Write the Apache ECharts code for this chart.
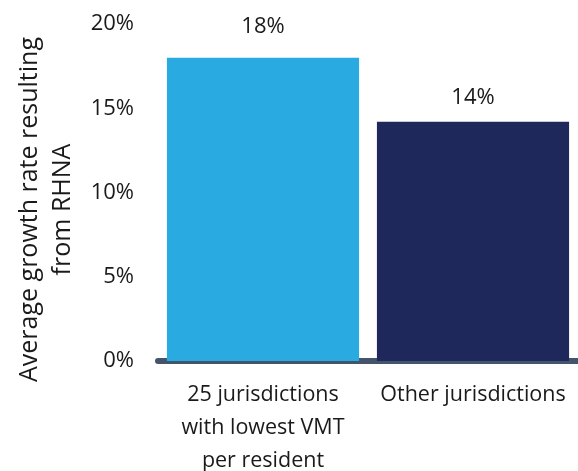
<!DOCTYPE html>
<html>
<head>
<meta charset="utf-8">
<script src="https://cdn.jsdelivr.net/npm/echarts@6/dist/echarts.min.js"></script>
<style>
  html, body { margin: 0; padding: 0; background: #fff; }
  #chart { width: 578px; height: 471px; }
</style>
</head>
<body>
<div id="chart"></div>
<script>
let categories = ['25 jurisdictions\nwith lowest VMT\nper resident', 'Other jurisdictions']
let growthRates = [18.0, 14.2]
let barColors = ['#29ABE2', '#1F285B']
let labelGaps = [20, 13]
let yTicks = { min: 0, max: 20, step: 5 }

let myChart = echarts.init(document.getElementById('chart'))
let textFont = 'Open Sans'

// 柱子数据
let barData = growthRates.map((v, i) => ({
  value: v,
  itemStyle: { color: barColors[i] },
  label: { distance: labelGaps[i] }
}))

let option = {
  animation: false,
  grid: {
    left: 158,
    right: 0,
    top: 24,
    bottom: 110,
    containLabel: false,
    outerBoundsMode: 'none'
  },
  xAxis: {
    type: 'category',
    data: categories,
    axisLine: { show: true, lineStyle: { color: '#44546A', width: 6 } },
    axisTick: { show: false },
    axisLabel: {
      margin: 17,
      color: '#1a1a1a',
      fontFamily: textFont,
      fontSize: 21.5,
      lineHeight: 33,
      interval: 0
    }
  },
  yAxis: {
    type: 'value',
    min: yTicks.min,
    max: yTicks.max,
    interval: yTicks.step,
    name: 'Average growth rate resulting\nfrom RHNA',
    nameLocation: 'middle',
    nameGap: 76,
    nameTextStyle: {
      color: '#1a1a1a',
      fontFamily: textFont,
      fontSize: 25,
      lineHeight: 33,
      padding: [0, 34, 0, 0]
    },
    axisLine: { show: false },
    axisTick: { show: false },
    splitLine: { show: false },
    axisLabel: {
      margin: 24,
      color: '#1a1a1a',
      fontFamily: textFont,
      fontSize: 22,
      formatter: '{value}%'
    }
  },
  series: [
    {
      type: 'bar',
      data: barData,
      barWidth: '91.5%',
      label: {
        show: true,
        position: 'top',
        color: '#1a1a1a',
        fontFamily: textFont,
        fontSize: 22,
        formatter: p => Math.round(p.value) + '%'
      }
    }
  ]
}
myChart.setOption(option)
</script>
</body>
</html>
